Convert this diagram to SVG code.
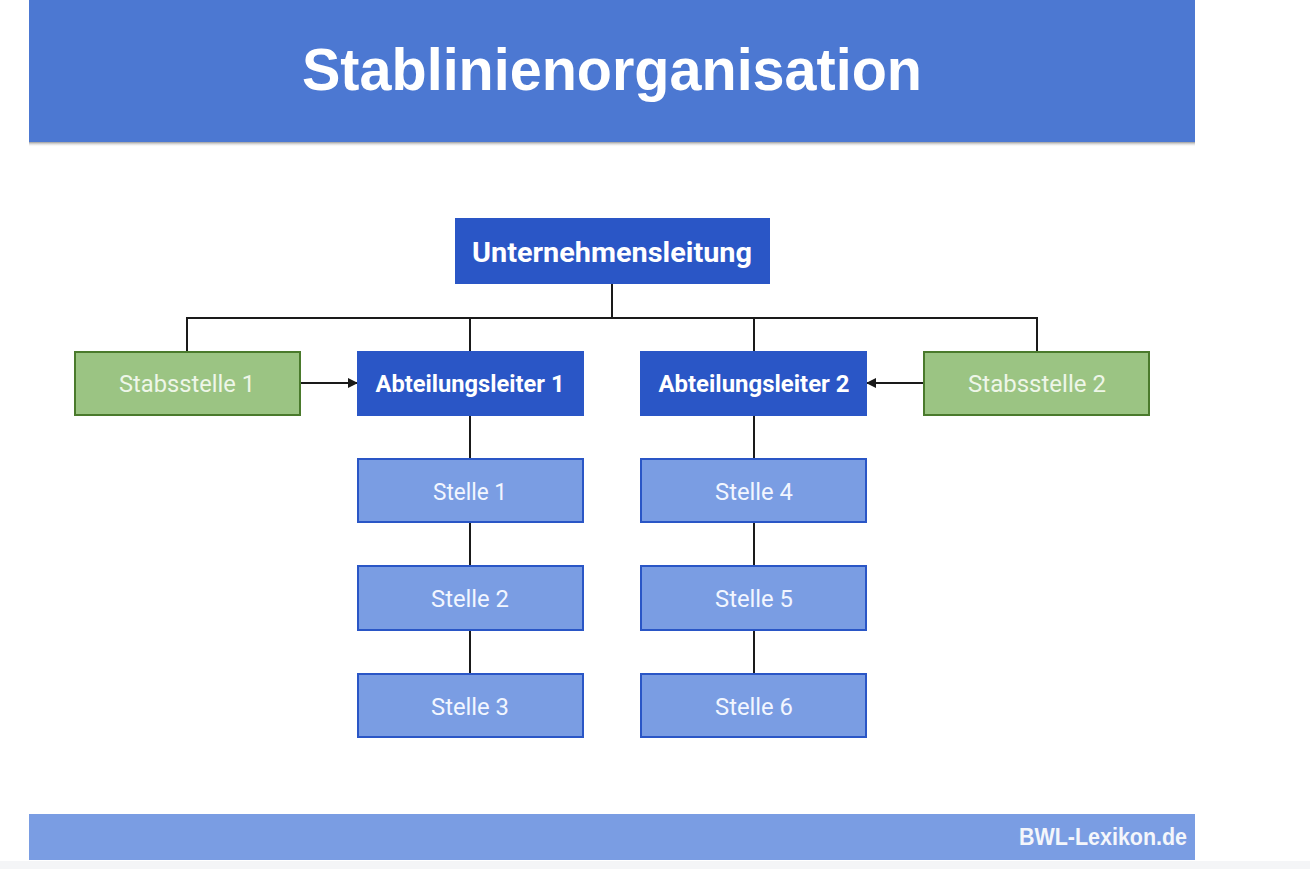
<svg xmlns="http://www.w3.org/2000/svg" width="1310" height="869" viewBox="0 0 1310 869">
<style>
.line{stroke:#1a1a1a;stroke-width:2;fill:none}
.lead{fill:#2a56c6;stroke:#2a56c6;stroke-width:2}
.staff{fill:#9bc483;stroke:#4a7a2c;stroke-width:2}
.pos{fill:#7a9de3;stroke:#2a56c6;stroke-width:2}
.tb{font-family:Roboto,"Liberation Sans",sans-serif;font-weight:bold;fill:#ffffff;text-anchor:middle}
.tr{font-family:Roboto,"Liberation Sans",sans-serif;font-weight:normal;fill:#f2f6ff;text-anchor:middle;font-size:24px}
</style>
<defs>
<marker id="arr" markerWidth="10" markerHeight="10" refX="9" refY="5" orient="auto" markerUnits="userSpaceOnUse">
<path d="M0,0 L10,5 L0,10 z" fill="#1a1a1a"/>
</marker>
<linearGradient id="sh" x1="0" y1="0" x2="0" y2="1">
<stop offset="0" stop-color="#9a9a9a"/>
<stop offset="1" stop-color="#ffffff" stop-opacity="0"/>
</linearGradient>
</defs>
<rect x="0" y="0" width="1310" height="869" fill="#ffffff"/>
<rect x="0" y="861" width="1310" height="8" fill="#f4f5f7"/>
<g id="header">
<rect x="29" y="0" width="1166" height="142" fill="#4c78d2"/>
<rect x="29" y="142" width="1166" height="5" fill="url(#sh)"/>
<text x="612" y="90" font-family="'Liberation Sans',Arial,sans-serif" font-weight="bold" font-size="60" fill="#ffffff" text-anchor="middle" textLength="620" lengthAdjust="spacingAndGlyphs">Stablinienorganisation</text>
</g>
<g id="footer">
<rect x="29" y="814" width="1166" height="46" fill="#7a9de3"/>
<text x="1187" y="845" font-family="'Liberation Sans',Arial,sans-serif" font-weight="bold" font-size="23" fill="#f4f6fb" text-anchor="end" textLength="168" lengthAdjust="spacingAndGlyphs">BWL-Lexikon.de</text>
</g>
<g id="connectors">
<path class="line" d="M612,283 V318"/>
<path class="line" d="M187,352 V318 H1037 V352"/>
<path class="line" d="M470,318 V352"/>
<path class="line" d="M754,318 V352"/>
<path class="line" d="M300,383 H357" marker-end="url(#arr)"/>
<path class="line" d="M924,383 H867" marker-end="url(#arr)"/>
<path class="line" d="M470,415 V459 M470,522 V566 M470,630 V674"/>
<path class="line" d="M754,415 V459 M754,522 V566 M754,630 V674"/>
</g>
<g id="unternehmensleitung">
<rect class="lead" x="456" y="219" width="313" height="64"/>
<text class="tb" x="612" y="262" font-size="28" textLength="280" lengthAdjust="spacingAndGlyphs">Unternehmensleitung</text>
</g>
<g id="stabsstelle1">
<rect class="staff" x="75" y="352" width="225" height="63"/>
<text class="tr" x="187" y="392" style="fill:#eef6e8" textLength="136" lengthAdjust="spacingAndGlyphs">Stabsstelle 1</text>
</g>
<g id="abteilungsleiter1">
<rect class="lead" x="358" y="352" width="225" height="63"/>
<text class="tb" x="470" y="392" font-size="24" textLength="189" lengthAdjust="spacingAndGlyphs">Abteilungsleiter 1</text>
</g>
<g id="abteilungsleiter2">
<rect class="lead" x="641" y="352" width="225" height="63"/>
<text class="tb" x="754" y="392" font-size="24" textLength="191" lengthAdjust="spacingAndGlyphs">Abteilungsleiter 2</text>
</g>
<g id="stabsstelle2">
<rect class="staff" x="924" y="352" width="225" height="63"/>
<text class="tr" x="1037" y="392" style="fill:#eef6e8" textLength="138" lengthAdjust="spacingAndGlyphs">Stabsstelle 2</text>
</g>
<g id="stelle1">
<rect class="pos" x="358" y="459" width="225" height="63"/>
<text class="tr" x="470" y="500" textLength="74" lengthAdjust="spacingAndGlyphs">Stelle 1</text>
</g>
<g id="stelle2">
<rect class="pos" x="358" y="566" width="225" height="64"/>
<text class="tr" x="470" y="607" textLength="78" lengthAdjust="spacingAndGlyphs">Stelle 2</text>
</g>
<g id="stelle3">
<rect class="pos" x="358" y="674" width="225" height="63"/>
<text class="tr" x="470" y="715" textLength="78" lengthAdjust="spacingAndGlyphs">Stelle 3</text>
</g>
<g id="stelle4">
<rect class="pos" x="641" y="459" width="225" height="63"/>
<text class="tr" x="754" y="500" textLength="78" lengthAdjust="spacingAndGlyphs">Stelle 4</text>
</g>
<g id="stelle5">
<rect class="pos" x="641" y="566" width="225" height="64"/>
<text class="tr" x="754" y="607" textLength="78" lengthAdjust="spacingAndGlyphs">Stelle 5</text>
</g>
<g id="stelle6">
<rect class="pos" x="641" y="674" width="225" height="63"/>
<text class="tr" x="754" y="715" textLength="78" lengthAdjust="spacingAndGlyphs">Stelle 6</text>
</g>
</svg>
